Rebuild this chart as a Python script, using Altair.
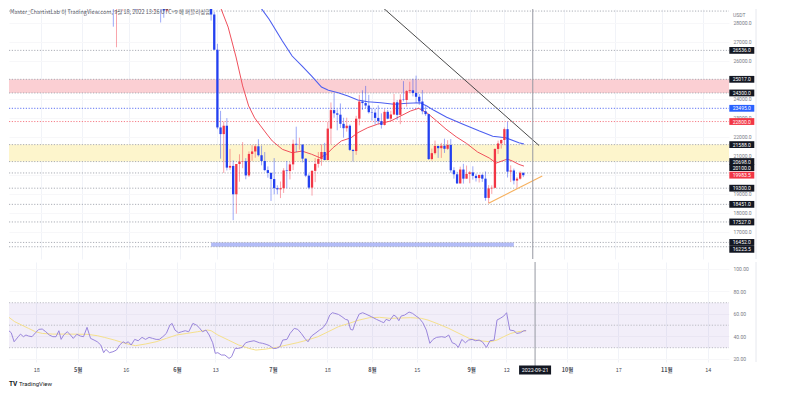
import altair as alt
import pandas as pd

W, HP, HR = 720, 250, 100
RED, BLUE = "#f23645", "#2340f0"
HEADER = "Master_ChartistLab 이 TradingView.com, 9월 18, 2022 13:26 UTC+9 에 퍼블리싱함"

# ---------------- data ----------------
candle_start = "2022-04-07"
candle_open = [43170, 43440, 42250, 42750, 42160, 39520, 40080, 41150, 39940, 40550, 40380, 39680, 40800, 41500, 41360, 40480, 39710, 39450, 39450, 40430, 38110, 39240, 39740, 38600,
               37630, 38470, 38520, 37720, 39690, 36550, 36010, 35470, 34040, 30080, 31010, 28940, 29030, 29280, 30100, 31300, 29860, 30420, 28700, 30300, 29200, 29430, 30270, 29100, 29650, 29540, 29200, 28630, 29020, 29450, 31720,
               31800, 29800, 30450, 29700, 29860, 29900, 31370, 31125, 30200, 30110, 29090, 28420, 26570, 22490, 22140, 22580, 20380, 20470, 18980, 20570, 20700, 20720, 19970, 21100, 21230, 21500, 21030, 20730, 20250, 20100,
               19780, 19300, 19240, 19300, 20230, 20200, 20550, 21630, 21590, 21590, 20850, 19960, 19330, 20210, 20580, 20830, 21200, 20780, 22430, 23400, 23230, 23160, 22680, 22450, 22580, 21310, 21250, 22950, 23850, 23770, 23640,
               23290, 23270, 22990, 22820, 22620, 23310, 22950, 23170, 23810, 23150, 23950, 23930, 24400, 24440, 24300, 24100, 23850, 23340, 23190, 20830, 21140, 21520, 21400, 21530, 21370, 21570, 20240, 20030, 19550, 20280, 19800,
               20050, 20130, 19950, 19830, 20000, 19800, 18790, 19290, 19320, 21360, 21650, 21830, 22400, 20170, 20230, 19700, 19800, 20110]
candle_high = [43900, 43970, 42800, 43430, 42410, 40690, 41560, 41500, 40870, 40710, 40620, 41140, 41760, 42200, 42980, 40800, 39980, 39940, 40620, 40800, 39470, 40370, 39920, 38800,
               38680, 39170, 38650, 40020, 39840, 36670, 36130, 35500, 34240, 32660, 32160, 30030, 30980, 30340, 31460, 31320, 30780, 30700, 30550, 30780, 29650, 30480, 30660, 29840, 30220, 29870, 29400, 29250, 29530, 32220, 32400,
               31980, 30650, 30680, 29950, 30180, 31760, 31550, 31330, 30700, 30400, 29440, 28550, 26880, 23360, 22800, 22980, 21360, 20760, 20500, 21080, 21720, 20880, 21230, 21560, 21600, 21870, 21540, 21200, 20440, 20140,
               20880, 19450, 19650, 20350, 20730, 20680, 21850, 22530, 21950, 21600, 20870, 20060, 20250, 20880, 21200, 21600, 21680, 22780, 23800, 24280, 23440, 23750, 23000, 23000, 22650, 21350, 23100, 24200, 24440, 24670, 24200,
               23500, 23460, 23650, 23230, 23450, 23400, 23360, 24250, 23930, 24230, 24920, 24450, 24890, 25050, 25210, 24250, 24450, 23600, 23200, 21380, 21800, 21530, 21680, 21900, 21820, 21880, 20400, 20160, 20430, 20580, 20490,
               20200, 20450, 20060, 20000, 20060, 20180, 19460, 19450, 21400, 21800, 21860, 22490, 22800, 20500, 20330, 19890, 20190, 20120]
candle_low = [42730, 42110, 42130, 41870, 39200, 39250, 39530, 39550, 39770, 40020, 39540, 38540, 40570, 40820, 39750, 39180, 39290, 38930, 38200, 37700, 37870, 38880, 38180, 37580,
              37390, 38050, 37500, 37670, 35570, 35260, 34780, 33710, 30030, 29730, 27780, 26700, 28700, 28600, 29480, 29090, 29440, 28650, 28680, 28730, 28950, 29230, 28850, 28600, 29280, 28000, 28250, 28560, 28800, 29300, 31200,
              29300, 29580, 29320, 29480, 29520, 29880, 29220, 29850, 29950, 28850, 28100, 26560, 22400, 20850, 20100, 20230, 20250, 17620, 17960, 19640, 20350, 19770, 19890, 20740, 20900, 20960, 20500, 20190, 19850, 18630,
              18970, 18980, 18780, 19050, 19300, 19760, 20250, 21200, 21320, 20650, 19880, 19240, 18910, 19620, 20380, 20480, 20760, 20760, 21600, 23000, 22340, 22460, 21950, 22270, 21250, 20700, 21050, 22600, 23410, 23500, 23220,
              22850, 22650, 22680, 22430, 22590, 22920, 22840, 23150, 22880, 22660, 23860, 23580, 24300, 24120, 23770, 23670, 23180, 23100, 20780, 20760, 21070, 20890, 20890, 21150, 21310, 20110, 19800, 19520, 19550, 19540, 19800,
              19560, 19750, 19650, 19600, 19630, 18640, 18510, 19000, 19300, 21100, 21380, 21560, 19860, 19620, 19500, 19320, 19750, 19880]
candle_close = [43440, 42250, 42750, 42160, 39520, 40080, 41150, 39940, 40550, 40380, 39680, 40800, 41500, 41360, 40480, 39710, 39450, 39450, 40430, 38110, 39240, 39740, 38600, 37630,
                38470, 38520, 37720, 39690, 36550, 36010, 35470, 34040, 30080, 31010, 28940, 29030, 29280, 30100, 31300, 29860, 30420, 28700, 30300, 29200, 29430, 30270, 29100, 29650, 29540, 29200, 28630, 29020, 29450, 31720, 31800,
                29800, 30450, 29700, 29860, 29900, 31370, 31125, 30200, 30110, 29090, 28420, 26570, 22490, 22140, 22580, 20380, 20470, 18980, 20570, 20700, 20720, 19970, 21100, 21230, 21500, 21030, 20730, 20250, 20100, 19780,
                19300, 19240, 19300, 20230, 20200, 20550, 21630, 21590, 21590, 20850, 19960, 19330, 20210, 20580, 20830, 21200, 20780, 22430, 23400, 23230, 23160, 22680, 22450, 22580, 21310, 21250, 22950, 23850, 23770, 23640, 23290,
                23270, 22990, 22820, 22620, 23310, 22950, 23170, 23810, 23150, 23950, 23930, 24400, 24440, 24300, 24100, 23850, 23340, 23190, 20830, 21140, 21520, 21400, 21530, 21370, 21570, 20240, 20030, 19550, 20280, 19800, 20050,
                20130, 19950, 19830, 20000, 19800, 18790, 19290, 19320, 21360, 21650, 21830, 22400, 20170, 20230, 19700, 19800, 20110, 19983.5]

# moving averages (days since 2022-04-07, price)
red_ma_day = [67.2, 70.4, 72.9, 75.0, 76.9, 78.8, 80.7, 82.9, 84.4, 87.6, 90.7, 93.8, 96.9, 99.5, 101.6, 103.7, 106.3, 109.4, 111.5, 114.7, 117.8, 122.0, 125.1, 128.2, 130.8,
              133.5, 136.5, 139.5, 142.7, 146.0, 149.5, 153.2, 155.4, 157.3, 158.9, 160.5, 162.6, 164.2]
red_ma_val = [29130, 27760, 26190, 24670, 23620, 22990, 22570, 22090, 21780, 21340, 21160, 21250, 21080, 20900, 21080, 21430, 21780, 21950, 22210, 22480, 22660, 22830, 23090, 23350, 23495,
              23250, 22830, 22400, 22000, 21650, 21200, 20885, 20620, 20730, 20830, 20730, 20550, 20460]
blue_ma_day = [79.2, 83.4, 87.6, 90.7, 93.8, 96.9, 100.0, 102.2, 105.3, 108.4, 111.5, 114.7, 118.8, 123.0, 127.2, 131.3, 133.4, 135.5, 139.7, 144.9, 150.1, 154.3, 158.4, 162.6, 164.2]
blue_ma_val = [29130, 28170, 27030, 26240, 25720, 25190, 24610, 24440, 24310, 24140, 23930, 23840, 23790, 23705, 23757, 23789, 23615, 23400, 23030, 22660, 22300, 22030, 21950, 21690, 21620]

# trend lines
black_trend_date = ["2022-07-30", "2022-09-23"]
black_trend_val = [29580, 21540]
orange_trend_date = ["2022-09-07", "2022-09-24"]
orange_trend_val = [18510, 19940]

# horizontal levels and zones
level_price = [28600, 26536, 25017, 24300, 23495, 22800, 21588, 20698, 20100, 19300, 18451, 17527, 16452, 16225.5]
label_price = [26536.0, 25017.0, 24300.0, 23495.0, 22800.0, 21588.0, 20698.0, 20100.0, 19983.5, 19300.0, 18451.0, 17527.0, 16452.0, 16225.5]
zone_low = [24300, 20698]
zone_high = [25017, 21588]
box_start, box_end = "2022-06-11", "2022-09-15"
box_low, box_high = 16225.5, 16452

# RSI (days since 2022-04-07)
rsi_day = [0.0, 1.1, 2.2, 3.2, 4.1, 5.4, 6.1, 7.0, 7.8, 8.6, 9.7, 10.8, 11.8, 12.9, 14.0, 15.1, 16.2, 17.2, 18.1, 18.8, 19.6, 20.7, 21.5, 22.6, 23.7, 24.8, 25.8, 26.9, 28.0, 29.1,
           30.1, 31.2, 32.1, 32.8, 33.9, 35.0, 36.1, 37.1, 38.2, 39.0, 39.8, 40.7, 41.8, 42.9, 44.1, 45.2, 46.3, 47.4, 48.5, 49.5, 50.6, 51.7, 52.8, 53.5, 54.4, 55.5, 56.5, 57.6,
           58.7, 60.0, 61.1, 61.9, 63.0, 64.1, 65.1, 66.2, 67.0, 67.8, 68.9, 70.0, 71.3, 72.1, 73.2, 74.3, 75.4, 76.5, 77.5, 79.1, 80.8, 81.8, 82.9, 84.0, 85.1, 86.1, 87.2, 88.1,
           89.4, 90.4, 91.7, 92.8, 93.9, 95.0, 96.0, 97.1, 98.5, 99.6, 100.7, 101.8, 102.8, 103.6, 104.4, 105.5, 106.6, 107.7, 108.5, 109.3, 110.0, 110.9, 112.0, 113.1, 114.1,
           115.8, 117.4, 119.0, 119.7, 120.4, 121.5, 122.8, 123.6, 124.4, 125.1, 126.2, 127.6, 128.7, 129.8, 130.8, 131.9, 133.0, 134.1, 135.1, 136.2, 137.8, 138.9, 140.0, 141.1,
           142.1, 143.0, 144.1, 145.2, 146.2, 147.3, 148.4, 149.5, 150.5, 151.8, 152.9, 154.2, 155.1, 156.1, 157.2, 158.1, 159.1, 160.4, 161.3, 162.4, 163.5, 164.2]
rsi_val = [46.3, 45.1, 45.7, 43.3, 35.3, 39.8, 42.1, 39.8, 41.3, 40.4, 39.8, 43.3, 46.3, 46.6, 44.2, 41.3, 39.8, 39.8, 45.1, 37.4, 41.3, 44.2, 42.1, 38.3, 41.9, 40.4, 39.8, 48.1, 38.3, 36.8,
           35.3, 32.4, 25.6, 28.5, 25.6, 26.4, 27.9, 32.4, 35.3, 33.9, 35.3, 32.4, 37.4, 36.2, 39.2, 37.4, 39.2, 38.3, 37.4, 37.4, 39.8, 42.7, 50.1, 51.6, 45.7, 43.3, 44.2, 45.1,
           44.2, 51.6, 50.1, 48.1, 44.2, 45.7, 41.3, 34.4, 25.0, 25.6, 23.5, 23.5, 20.5, 22.0, 29.4, 29.4, 30.3, 34.4, 35.3, 36.2, 34.4, 33.9, 33.0, 31.8, 29.4, 29.4, 30.9, 36.8,
           37.4, 42.7, 47.2, 46.3, 42.7, 38.3, 35.3, 40.4, 43.3, 45.7, 47.8, 52.2, 59.0, 61.1, 60.5, 59.6, 57.6, 55.2, 54.6, 46.3, 45.7, 53.1, 59.9, 61.1, 59.9,
           57.6, 55.2, 53.1, 52.2, 55.2, 54.0, 59.0, 57.6, 54.0, 58.1, 59.0, 61.7, 60.5, 58.1, 56.1, 52.2, 45.7, 33.9, 37.4, 39.2, 39.8, 39.2, 41.3, 34.4,
           33.3, 30.3, 37.4, 34.4, 36.8, 37.4, 36.2, 36.8, 35.3, 30.3, 36.2, 36.8, 54.6, 56.1, 58.1, 61.1, 45.7, 45.1, 42.7, 43.3, 45.1, 45.1]
rsi_ma_day = [0.0, 2.2, 4.3, 6.5, 8.6, 10.8, 12.9, 16.2, 21.5, 26.9, 30.1, 32.3, 35.5, 38.8, 42.0, 45.2, 48.5, 51.7, 54.9, 58.1, 61.4, 64.6, 65.7, 67.8, 71.1, 74.3, 77.5, 79.7,
              82.9, 86.1, 89.4, 92.6, 95.8, 99.1, 102.3, 105.5, 108.8, 112.0, 115.2, 118.4, 121.7, 124.9, 128.1, 131.4, 133.5, 136.8, 140.0, 143.2, 146.4, 149.7, 152.9, 155.1,
              157.2, 159.4, 161.5, 164.2]
rsi_ma_val = [60.5, 57.6, 53.1, 50.1, 47.2, 44.2, 42.7, 42.1, 42.1, 41.9, 40.7, 39.2, 36.8, 33.9, 31.8, 33.3, 35.3, 38.3, 41.3, 42.7, 44.2, 45.7, 45.1, 41.3, 36.8, 32.4, 29.4, 27.9,
              28.8, 30.3, 32.4, 34.4, 36.8, 39.8, 44.2, 48.7, 51.6, 54.6, 56.7, 57.0, 56.1, 56.4, 56.7, 56.1, 54.6, 51.0, 47.2, 42.7, 38.3, 36.2, 35.3, 36.8,
              39.8, 42.7, 44.2, 45.1]
rsi_levels = [70, 50, 30]

x_tick_dates = ["2022-04-18", "2022-05-01", "2022-05-16", "2022-06-01", "2022-06-13", "2022-07-01", "2022-07-18", "2022-08-01",
                "2022-08-15", "2022-09-01", "2022-09-12", "2022-10-01", "2022-10-17", "2022-11-01", "2022-11-14"]
cursor_date = "2022-09-21"
price_ticks = [17000, 18000, 19000, 20000, 21000, 22000, 23000, 24000, 25000, 26000, 27000, 28000]
rsi_ticks = [20, 40, 60, 80, 100]

# ---------------- helpers ----------------
BASE = pd.Timestamp(candle_start)


def iso(ts):
    return pd.Timestamp(ts).strftime("%Y-%m-%dT%H:%M:%SZ")


def day_iso(days):
    return [iso(BASE + pd.Timedelta(days=float(d))) for d in days]


def dt(s, h=0, m=0):
    t = pd.Timestamp(s)
    return alt.DateTime(year=t.year, month=t.month, date=t.day, hours=h, minutes=m, utc=True)


xscale = alt.Scale(type="utc", domain=[dt("2022-04-09", 12), dt("2022-11-20", 15, 20)])
xvals = [dt(s) for s in x_tick_dates]
GRID = "#f1f3f8"
x_axis_price = alt.Axis(values=xvals, labels=False, ticks=False, domain=False, grid=True, gridColor=GRID, title=None)
x_axis_rsi = alt.Axis(values=xvals, ticks=False, domain=False, grid=True, gridColor=GRID, title=None,
                      labelExpr="utcdate(datum.value) == 1 ? (utcmonth(datum.value) + 1) + '월' : '' + utcdate(datum.value)",
                      labelFontSize=5.5, labelColor="#4a4d57", labelPadding=5, labelFont="Noto Sans CJK KR",
                      labelFontWeight={"condition": {"test": "utcdate(datum.value) == 1", "value": "bold"}, "value": "normal"})

pscale = alt.Scale(domain=[15582, 28709], nice=False, zero=False)
p_axis = alt.Axis(orient="right", values=price_ticks, format=".1f", title=None, ticks=False, domain=False,
                  grid=True, gridColor="#f7f7f9", labelFontSize=5, labelColor="#787b86", labelPadding=4,
                  labelFont="Roboto", zindex=0)
rscale = alt.Scale(domain=[17.3, 106.2], nice=False, zero=False)
r_axis = alt.Axis(orient="right", values=rsi_ticks, format=".2f", title=None, ticks=False, domain=False,
                  grid=True, gridColor="#f7f7f9", labelFontSize=5, labelColor="#787b86", labelPadding=4,
                  labelFont="Roboto", zindex=0)


def XP(f):
    return alt.X(f"{f}:T", scale=xscale, axis=x_axis_price)


def XR(f):
    return alt.X(f"{f}:T", scale=xscale, axis=x_axis_rsi)


def YP(f):
    return alt.Y(f"{f}:Q", scale=pscale, axis=p_axis)


def YR(f):
    return alt.Y(f"{f}:Q", scale=rscale, axis=r_axis)


# ---------------- dataframes ----------------
dates = pd.date_range(candle_start, periods=len(candle_close), freq="D")
cdf = pd.DataFrame({"date": [iso(d) for d in dates], "open": candle_open, "high": candle_high,
                    "low": candle_low, "close": candle_close})
cdf["dir"] = ["up" if c >= o else "down" for o, c in zip(candle_open, candle_close)]
dir_color = alt.Color("dir:N", scale=alt.Scale(domain=["up", "down"], range=[RED, BLUE]), legend=None)

zones = pd.DataFrame({"lo": zone_low, "hi": zone_high, "fill": ["#fbcfd3", "#fdf5cc"]})
boxdf = pd.DataFrame({"s": [iso(box_start)], "e": [iso(box_end)], "lo": [box_low], "hi": [box_high]})
lvl_color = {23495: "#4d63f2", 22800: "#f5727c"}
levels = pd.DataFrame({"price": level_price, "c": [lvl_color.get(p, "#a3a6af") for p in level_price]})
red_ma = pd.DataFrame({"date": day_iso(red_ma_day), "v": red_ma_val})
blue_ma = pd.DataFrame({"date": day_iso(blue_ma_day), "v": blue_ma_val})
btrend = pd.DataFrame({"date": [iso(d) for d in black_trend_date], "v": black_trend_val})
otrend = pd.DataFrame({"date": [iso(d) for d in orange_trend_date], "v": orange_trend_val})
cursor = pd.DataFrame({"date": [iso(cursor_date)], "label": [cursor_date]})

lab_bg = {23495.0: "#2962ff", 22800.0: "#f23645", 19983.5: "#f23645"}
lab_shift = {20100.0: -5.3, 16225.5: 2.6}
labels = pd.DataFrame({"price": label_price, "text": [f"{p:.1f}" for p in label_price],
                       "bg": [lab_bg.get(p, "#131722") for p in label_price],
                       "shift": [lab_shift.get(p, 0.0) for p in label_price]})

# ---------------- price panel ----------------
LX = 732.8
layers = [
    alt.Chart(zones).mark_rect().encode(x=alt.value(0), x2=alt.value(W), y=YP("lo"), y2="hi",
                                        color=alt.Color("fill:N", scale=None)),
    alt.Chart(boxdf).mark_rect(color="#b3bcf7", clip=True).encode(x=XP("s"), x2="e", y=YP("lo"), y2="hi"),
    alt.Chart(levels).mark_rule(strokeDash=[1.2, 1.6], strokeWidth=0.9).encode(
        x=alt.value(0), x2=alt.value(W), y=YP("price"), color=alt.Color("c:N", scale=None)),
    alt.Chart(red_ma).mark_line(clip=True, color="#f0505c", strokeWidth=1).encode(x=XP("date"), y=YP("v")),
    alt.Chart(blue_ma).mark_line(clip=True, color="#4d5ff0", strokeWidth=1.1).encode(x=XP("date"), y=YP("v")),
    alt.Chart(btrend).mark_line(clip=True, color="#4a4a4a", strokeWidth=1).encode(x=XP("date"), y=YP("v")),
    alt.Chart(otrend).mark_line(clip=True, color="#f6b15f", strokeWidth=1.2).encode(x=XP("date"), y=YP("v")),
    alt.Chart(cdf).mark_rule(clip=True, strokeWidth=0.9, opacity=0.5).encode(
        x=XP("date"), y=YP("low"), y2="high", color=dir_color),
    alt.Chart(cdf).mark_bar(clip=True, size=2.3).encode(x=XP("date"), y=YP("open"), y2="close", color=dir_color),
    alt.Chart(cursor).mark_rule(color="#9598a1", strokeWidth=1).encode(x=XP("date")),
    alt.Chart(pd.DataFrame({"a": [0]})).mark_rule(color="#e6e8ee").encode(
        x=alt.value(747), y=alt.value(0), y2=alt.value(HP)),
]
for s in sorted(set(labels["shift"])):
    sub = labels[labels["shift"] == s]
    layers.append(alt.Chart(sub).mark_tick(orient="horizontal", size=25, thickness=6.8, opacity=1, yOffset=s).encode(
        x=alt.value(LX), y=YP("price"), color=alt.Color("bg:N", scale=None)))
    layers.append(alt.Chart(sub).mark_text(color="white", fontSize=5, font="Roboto", yOffset=s,
                                           baseline="middle", align="center").encode(
        x=alt.value(LX), y=YP("price"), text="text:N"))
layers.append(alt.Chart(pd.DataFrame({"t": [HEADER]})).mark_text(
    align="left", baseline="top", fontSize=5.5, color="#5d606b", font="Noto Sans CJK KR").encode(
    x=alt.value(1), y=alt.value(0.5), text="t:N"))
layers.append(alt.Chart(pd.DataFrame({"t": ["USDT"]})).mark_text(
    align="left", baseline="middle", fontSize=5, color="#787b86", font="Roboto").encode(
    x=alt.value(724), y=alt.value(6), text="t:N"))

price_chart = alt.layer(*layers).properties(width=W, height=HP)

# ---------------- RSI panel ----------------
rsi = pd.DataFrame({"date": day_iso(rsi_day), "v": rsi_val})
rsi_ma = pd.DataFrame({"date": day_iso(rsi_ma_day), "v": rsi_ma_val})
rband = pd.DataFrame({"lo": [30], "hi": [70]})
rlev = pd.DataFrame({"v": rsi_levels})

rlayers = [
    alt.Chart(rband).mark_rect(color="#7e57c2", opacity=0.1).encode(
        x=alt.value(0), x2=alt.value(W), y=YR("lo"), y2="hi"),
    alt.Chart(rlev).mark_rule(color="#b4b6bd", strokeDash=[1.2, 1.6], strokeWidth=0.9).encode(
        x=alt.value(0), x2=alt.value(W), y=YR("v")),
    alt.Chart(rsi_ma).mark_line(clip=True, color="#f5e08c", strokeWidth=1).encode(x=XR("date"), y=YR("v")),
    alt.Chart(rsi).mark_line(clip=True, color="#9a86dc", strokeWidth=1).encode(x=XR("date"), y=YR("v")),
    alt.Chart(cursor).mark_rule(color="#9598a1", strokeWidth=1).encode(x=XR("date"), y=alt.value(0), y2=alt.value(HR + 4)),
    alt.Chart(pd.DataFrame({"a": [0]})).mark_rule(color="#e6e8ee").encode(
        x=alt.value(747), y=alt.value(0), y2=alt.value(HR)),
    alt.Chart(cursor).mark_tick(orient="horizontal", size=32, thickness=9, opacity=1, color="#131722").encode(
        x=XR("date"), y=alt.value(HR + 8)),
    alt.Chart(cursor).mark_text(color="white", fontSize=5.3, font="Roboto", baseline="middle").encode(
        x=XR("date"), y=alt.value(HR + 8), text="label:N"),
    alt.Chart(pd.DataFrame({"t": ["TV"]})).mark_text(align="left", baseline="middle", fontSize=6.5, fontWeight="bold",
                                                    color="#131722", font="Roboto").encode(
        x=alt.value(0), y=alt.value(HR + 22), text="t:N"),
    alt.Chart(pd.DataFrame({"t": ["TradingView"]})).mark_text(align="left", baseline="middle", fontSize=6,
                                                             color="#131722", font="Roboto").encode(
        x=alt.value(10), y=alt.value(HR + 22), text="t:N"),
]
rsi_chart = alt.layer(*rlayers).properties(width=W, height=HR)

chart = alt.vconcat(price_chart, rsi_chart, spacing=1, padding=0).configure_view(stroke=None)
chart.save("out.html", embed_options={"renderer": "svg", "actions": False})
